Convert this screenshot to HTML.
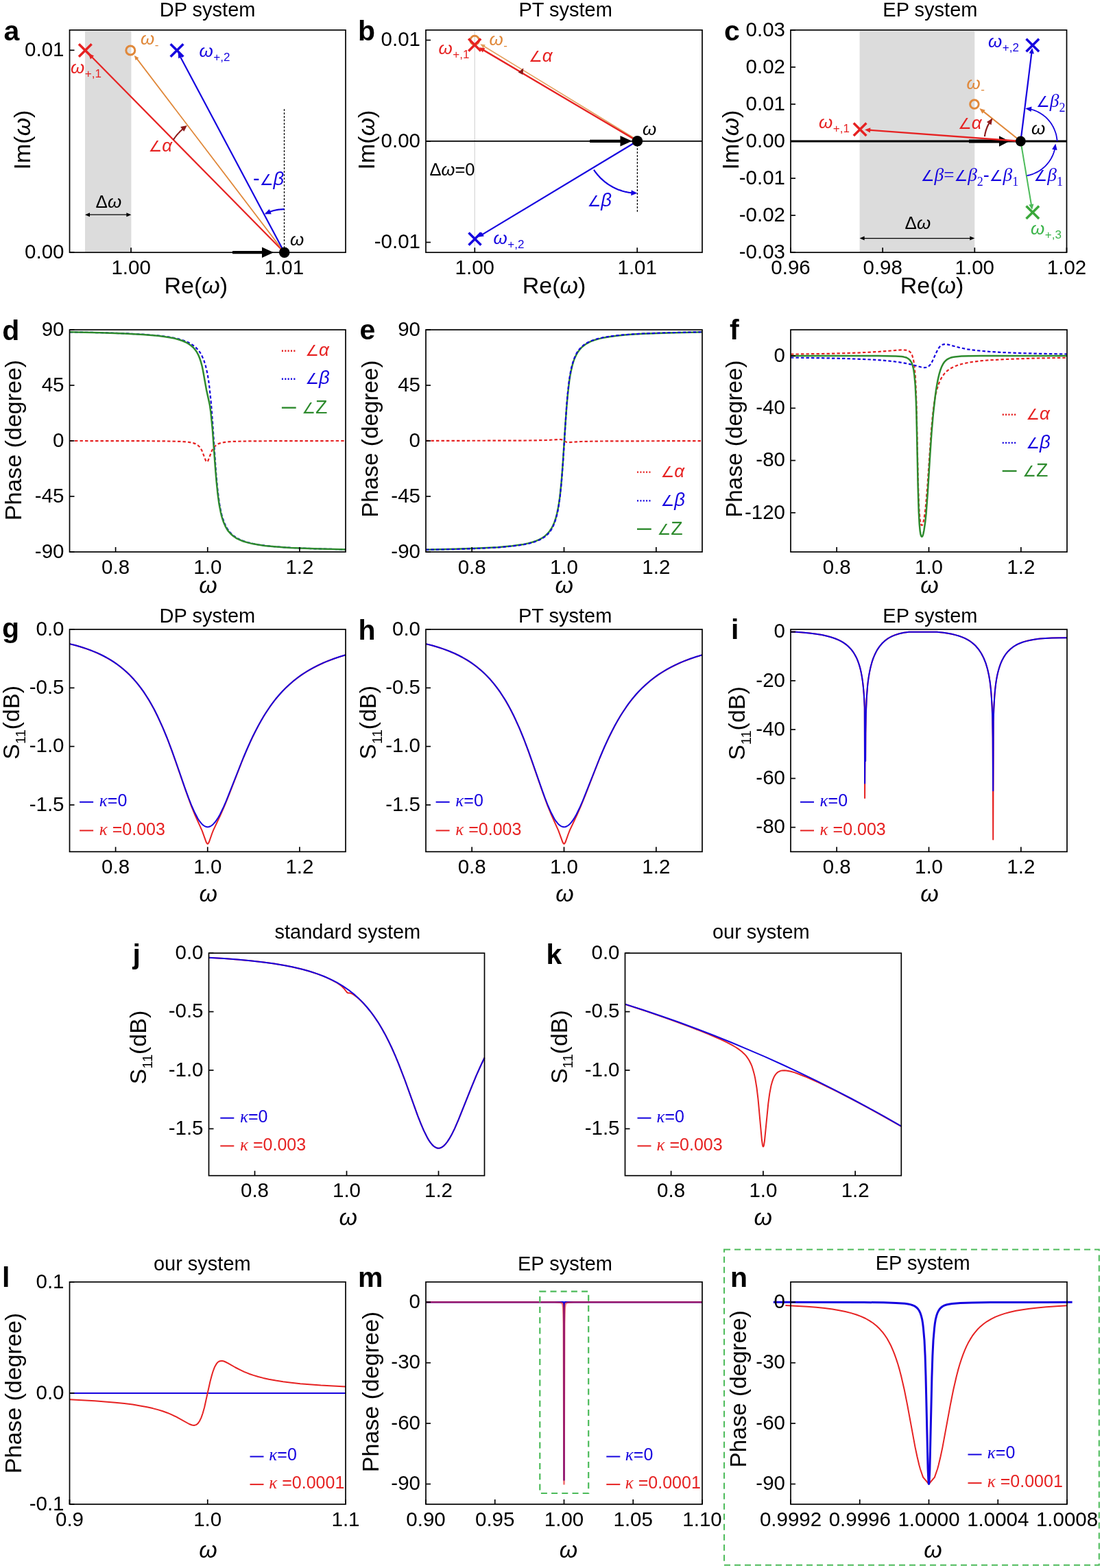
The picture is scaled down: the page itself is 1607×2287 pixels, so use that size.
<!DOCTYPE html>
<html><head><meta charset="utf-8"><style>
html,body{margin:0;padding:0;background:#fff;width:1607px;height:2287px;overflow:hidden}
svg{display:block}
</style></head><body>
<svg width="1607" height="2287" viewBox="0 0 1607 2287" font-family="'Liberation Sans','DejaVu Sans',sans-serif">
<rect width="1607" height="2287" fill="#fff"/>
<polyline points="101.5,643.0 196.4,643.1 240.0,643.4 263.5,643.9 270.9,644.4 276.6,645.1 281.6,646.1 285.3,647.4 288.3,649.2 291.0,651.7 293.0,654.6 294.7,657.8 300.1,672.0 301.1,673.4 301.7,673.7 302.4,673.4 303.4,672.0 308.8,657.8 310.5,654.6 312.5,651.7 315.2,649.2 318.2,647.4 321.9,646.1 326.9,645.1 332.6,644.4 340.3,643.9 363.8,643.4 408.1,643.1 504.0,643.0" fill="none" stroke="#e62222" stroke-width="2.2" stroke-linejoin="round" stroke-dasharray="4.4,3.1"/>
<polyline points="101.5,484.3 147.5,485.2 183.3,486.4 211.5,487.9 233.3,489.8 242.7,491.0 250.8,492.3 257.8,493.7 264.2,495.4 269.5,497.2 274.6,499.4 278.9,501.8 283.0,504.6 286.6,507.9 289.7,511.3 292.4,515.2 295.0,520.2 297.4,525.9 299.4,532.1 301.1,538.6 302.8,546.8 304.1,554.8 305.4,564.6 307.8,587.3 309.8,612.9 314.8,686.6 316.8,709.4 318.9,726.5 320.2,735.4 321.5,742.7 323.2,750.2 324.9,756.1 326.9,761.9 328.9,766.5 331.3,770.8 333.6,774.2 337.0,778.1 340.7,781.4 345.0,784.4 349.7,786.9 355.4,789.3 361.8,791.2 368.8,792.9 377.2,794.5 386.6,795.8 397.7,797.0 410.1,798.0 424.2,798.9 458.7,800.3 504.0,801.4" fill="none" stroke="#1503df" stroke-width="2.2" stroke-linejoin="round" stroke-dasharray="4.4,3.1"/>
<polyline points="101.5,484.3 146.1,485.2 181.3,486.4 208.8,487.9 230.3,489.7 239.4,490.9 247.4,492.2 254.5,493.6 260.5,495.2 265.9,497.0 270.5,499.0 274.9,501.4 278.6,504.0 282.0,507.0 284.6,510.1 287.0,513.5 289.3,517.9 291.3,522.8 293.0,527.9 294.7,534.3 296.0,540.5 301.1,569.0 305.8,590.2 307.4,601.6 309.8,625.7 313.8,680.4 315.5,700.8 317.5,720.4 319.5,735.0 321.9,747.5 323.2,752.9 324.9,758.5 326.6,763.1 328.6,767.6 330.6,771.2 332.9,774.7 336.3,778.5 340.0,781.8 344.3,784.8 349.0,787.2 354.7,789.5 361.1,791.4 368.2,793.1 376.5,794.6 385.9,795.9 397.0,797.0 409.4,798.0 423.5,798.9 458.4,800.3 504.0,801.4" fill="none" stroke="#2e8b2e" stroke-width="2.5" stroke-linejoin="round"/>
<rect x="101.50" y="481.00" width="402.50" height="324.00" fill="none" stroke="#000" stroke-width="1.7"/>
<line x1="101.50" y1="481.00" x2="108.50" y2="481.00" stroke="#000" stroke-width="1.7"/>
<text x="93.5" y="489.7" font-size="29.5" text-anchor="end">90</text>
<line x1="101.50" y1="562.00" x2="108.50" y2="562.00" stroke="#000" stroke-width="1.7"/>
<text x="93.5" y="570.7" font-size="29.5" text-anchor="end">45</text>
<line x1="101.50" y1="643.00" x2="108.50" y2="643.00" stroke="#000" stroke-width="1.7"/>
<text x="93.5" y="651.7" font-size="29.5" text-anchor="end">0</text>
<line x1="101.50" y1="724.00" x2="108.50" y2="724.00" stroke="#000" stroke-width="1.7"/>
<text x="93.5" y="732.7" font-size="29.5" text-anchor="end">-45</text>
<line x1="101.50" y1="805.00" x2="108.50" y2="805.00" stroke="#000" stroke-width="1.7"/>
<text x="93.5" y="813.7" font-size="29.5" text-anchor="end">-90</text>
<line x1="168.58" y1="805.00" x2="168.58" y2="798.00" stroke="#000" stroke-width="1.7"/>
<text x="168.6" y="836.6" font-size="29.5" text-anchor="middle">0.8</text>
<line x1="302.75" y1="805.00" x2="302.75" y2="798.00" stroke="#000" stroke-width="1.7"/>
<text x="302.8" y="836.6" font-size="29.5" text-anchor="middle">1.0</text>
<line x1="436.92" y1="805.00" x2="436.92" y2="798.00" stroke="#000" stroke-width="1.7"/>
<text x="436.9" y="836.6" font-size="29.5" text-anchor="middle">1.2</text>
<line x1="410.9" y1="511.8" x2="430.4" y2="511.8" stroke="#e62222" stroke-width="2.4" stroke-dasharray="2.1,2.25"/>
<text x="445.2" y="519.0" font-size="29" fill="#e62222"><tspan font-style="italic" font-size="22">∠</tspan><tspan font-style="italic" font-size="26">α</tspan></text>
<line x1="410.9" y1="552.7" x2="430.4" y2="552.7" stroke="#1503df" stroke-width="2.4" stroke-dasharray="2.1,2.25"/>
<text x="445.2" y="560.3" font-size="29" fill="#1503df"><tspan font-style="italic" font-size="22">∠</tspan><tspan font-style="italic" font-size="27.5">β</tspan></text>
<line x1="410.9" y1="594.7" x2="431.7" y2="594.7" stroke="#2e8b2e" stroke-width="2.4"/>
<text x="440.2" y="602.7" font-size="29" fill="#2e8b2e"><tspan font-style="italic" font-size="22">∠</tspan><tspan font-size="28.5">Z</tspan></text>
<text x="3.3" y="495.8" font-size="41" font-weight="bold">d</text>
<text x="31.2" y="642.0" font-size="34" text-anchor="middle" transform="rotate(-90 31.2 642.0)">Phase (degree)</text>
<text x="303.6" y="864.7" font-size="34" text-anchor="middle"><tspan font-style="italic">ω</tspan></text>
<polyline points="621.0,642.9 720.7,642.7 771.5,642.5 797.3,642.0 815.8,640.9 817.8,641.0 819.5,641.4 825.2,644.5 826.9,644.9 828.9,645.1 848.0,644.0 873.5,643.5 924.3,643.3 1024.0,643.1" fill="none" stroke="#e62222" stroke-width="2.2" stroke-linejoin="round" stroke-dasharray="4.4,3.1"/>
<polyline points="621.0,801.7 664.7,800.8 698.9,799.6 725.8,798.2 746.9,796.3 755.7,795.1 763.4,793.9 770.4,792.4 776.5,790.8 781.9,788.9 786.6,786.9 790.9,784.5 794.6,781.9 798.3,778.5 801.3,775.0 804.0,771.0 806.4,766.6 808.4,761.9 810.4,755.9 812.1,749.6 813.8,741.6 815.1,733.8 816.5,724.1 818.8,701.6 820.8,675.5 824.5,617.9 826.2,594.3 827.9,575.2 829.9,557.8 831.2,548.9 832.6,541.6 834.3,534.2 835.9,528.3 837.9,522.7 840.0,518.2 842.3,514.0 844.7,510.7 848.0,506.9 851.7,503.7 856.1,500.8 861.1,498.2 866.8,496.0 873.5,494.1 880.9,492.4 889.7,490.9 899.4,489.7 910.8,488.5 923.9,487.6 938.7,486.7 975.6,485.4 1024.0,484.3" fill="none" stroke="#2e8b2e" stroke-width="2.5" stroke-linejoin="round"/>
<polyline points="621.0,801.8 665.3,801.0 699.9,799.8 726.8,798.4 747.9,796.5 756.7,795.4 764.4,794.1 771.1,792.8 777.2,791.2 782.5,789.3 787.2,787.3 791.6,784.9 795.3,782.3 798.7,779.3 801.7,775.8 804.4,771.8 806.7,767.4 808.7,762.6 810.7,756.5 812.4,750.0 814.1,741.9 815.4,733.6 816.8,723.4 819.1,699.4 821.2,671.4 825.9,597.0 827.5,576.6 829.6,558.2 830.9,548.9 832.2,541.3 833.6,535.1 835.3,528.8 837.3,522.9 839.3,518.2 841.6,513.8 844.0,510.4 847.4,506.5 851.0,503.3 855.4,500.4 860.4,497.8 866.2,495.6 872.5,493.8 879.9,492.1 888.7,490.7 898.4,489.4 909.8,488.3 922.9,487.4 938.0,486.5 975.0,485.2 1024.0,484.2" fill="none" stroke="#1503df" stroke-width="2.2" stroke-linejoin="round" stroke-dasharray="4.4,3.1"/>
<rect x="621.00" y="481.00" width="403.00" height="324.00" fill="none" stroke="#000" stroke-width="1.7"/>
<line x1="621.00" y1="481.00" x2="628.00" y2="481.00" stroke="#000" stroke-width="1.7"/>
<text x="613.0" y="489.7" font-size="29.5" text-anchor="end">90</text>
<line x1="621.00" y1="562.00" x2="628.00" y2="562.00" stroke="#000" stroke-width="1.7"/>
<text x="613.0" y="570.7" font-size="29.5" text-anchor="end">45</text>
<line x1="621.00" y1="643.00" x2="628.00" y2="643.00" stroke="#000" stroke-width="1.7"/>
<text x="613.0" y="651.7" font-size="29.5" text-anchor="end">0</text>
<line x1="621.00" y1="724.00" x2="628.00" y2="724.00" stroke="#000" stroke-width="1.7"/>
<text x="613.0" y="732.7" font-size="29.5" text-anchor="end">-45</text>
<line x1="621.00" y1="805.00" x2="628.00" y2="805.00" stroke="#000" stroke-width="1.7"/>
<text x="613.0" y="813.7" font-size="29.5" text-anchor="end">-90</text>
<line x1="688.17" y1="805.00" x2="688.17" y2="798.00" stroke="#000" stroke-width="1.7"/>
<text x="688.2" y="836.6" font-size="29.5" text-anchor="middle">0.8</text>
<line x1="822.50" y1="805.00" x2="822.50" y2="798.00" stroke="#000" stroke-width="1.7"/>
<text x="822.5" y="836.6" font-size="29.5" text-anchor="middle">1.0</text>
<line x1="956.83" y1="805.00" x2="956.83" y2="798.00" stroke="#000" stroke-width="1.7"/>
<text x="956.8" y="836.6" font-size="29.5" text-anchor="middle">1.2</text>
<line x1="929.0" y1="688.6" x2="948.5" y2="688.6" stroke="#e62222" stroke-width="2.4" stroke-dasharray="2.1,2.25"/>
<text x="963.5" y="695.8" font-size="29" fill="#e62222"><tspan font-style="italic" font-size="22">∠</tspan><tspan font-style="italic" font-size="26">α</tspan></text>
<line x1="929.0" y1="730.4" x2="948.5" y2="730.4" stroke="#1503df" stroke-width="2.4" stroke-dasharray="2.1,2.25"/>
<text x="963.5" y="738.0" font-size="29" fill="#1503df"><tspan font-style="italic" font-size="22">∠</tspan><tspan font-style="italic" font-size="27.5">β</tspan></text>
<line x1="929.0" y1="771.7" x2="949.8" y2="771.7" stroke="#2e8b2e" stroke-width="2.4"/>
<text x="958.5" y="779.7" font-size="29" fill="#2e8b2e"><tspan font-style="italic" font-size="22">∠</tspan><tspan font-size="28.5">Z</tspan></text>
<text x="524.5" y="495.4" font-size="41" font-weight="bold">e</text>
<text x="551.1" y="640.1" font-size="33.3" text-anchor="middle" transform="rotate(-90 551.1 640.1)">Phase (degree)</text>
<text x="822.8" y="864.7" font-size="34" text-anchor="middle"><tspan font-style="italic">ω</tspan></text>
<polyline points="1153.0,516.7 1209.1,515.8 1250.7,514.6 1279.6,513.1 1310.2,510.7 1316.2,510.4 1320.6,510.6 1323.6,511.2 1326.0,512.4 1328.0,514.3 1329.3,516.4 1330.3,518.6 1332.0,524.5 1333.3,532.8 1334.7,547.6 1335.7,567.4 1336.4,587.7 1338.7,697.3 1339.7,729.8 1340.4,743.4 1341.4,755.9 1342.1,760.8 1342.7,763.9 1343.4,765.6 1344.1,766.2 1344.8,765.9 1345.4,764.7 1346.1,762.8 1347.1,758.6 1348.8,747.9 1350.1,736.0 1352.5,707.7 1357.9,629.1 1359.9,607.1 1362.2,588.3 1363.6,580.2 1364.9,573.6 1366.6,566.9 1368.3,561.5 1370.3,556.3 1372.3,552.2 1374.7,548.3 1377.3,544.8 1380.7,541.4 1384.4,538.5 1388.8,536.0 1393.8,533.7 1399.5,531.7 1405.9,530.1 1413.3,528.6 1422.0,527.3 1431.7,526.2 1442.8,525.3 1470.7,523.8 1507.3,522.6 1556.0,521.7" fill="none" stroke="#e62222" stroke-width="2.2" stroke-linejoin="round" stroke-dasharray="4.4,3.1"/>
<polyline points="1153.0,521.5 1198.3,522.2 1233.9,523.0 1262.5,524.1 1285.0,525.4 1301.8,527.0 1315.9,529.0 1327.6,531.3 1343.4,535.5 1346.1,536.0 1348.5,536.2 1350.5,536.0 1352.5,535.3 1354.5,534.0 1356.2,532.3 1357.9,530.0 1359.5,527.1 1365.9,513.1 1368.9,507.7 1370.6,505.5 1372.6,503.7 1374.7,502.6 1377.0,502.1 1379.7,502.1 1382.7,502.6 1398.8,506.9 1410.6,509.3 1423.3,511.1 1438.5,512.6 1458.9,513.9 1484.5,514.9 1516.4,515.8 1556.0,516.5" fill="none" stroke="#1503df" stroke-width="2.2" stroke-linejoin="round" stroke-dasharray="4.4,3.1"/>
<polyline points="1153.0,519.1 1279.9,519.1 1306.1,519.4 1314.9,520.1 1317.9,520.6 1320.6,521.2 1322.6,522.0 1324.6,523.2 1326.3,524.6 1327.6,526.1 1329.0,528.3 1330.0,530.6 1331.0,533.6 1332.0,537.8 1333.3,546.4 1334.7,561.7 1335.7,581.8 1336.4,602.2 1338.7,712.5 1339.7,745.3 1340.7,764.1 1341.7,774.6 1342.4,778.8 1343.1,781.3 1343.8,782.5 1344.4,782.8 1345.1,782.1 1345.8,780.7 1346.4,778.5 1347.4,773.8 1349.1,762.3 1350.5,749.4 1352.8,718.9 1356.5,660.0 1358.5,630.9 1360.9,603.5 1363.6,579.5 1364.9,569.8 1366.6,559.5 1367.9,552.7 1369.6,545.5 1371.3,539.8 1373.3,534.6 1375.3,530.7 1377.3,527.8 1379.4,525.7 1381.4,524.1 1383.7,522.8 1386.1,521.8 1389.1,521.0 1392.4,520.4 1401.9,519.6 1412.6,519.2 1430.4,519.1 1556.0,519.1" fill="none" stroke="#2e8b2e" stroke-width="2.5" stroke-linejoin="round"/>
<rect x="1153.00" y="481.00" width="403.00" height="324.00" fill="none" stroke="#000" stroke-width="1.7"/>
<line x1="1153.00" y1="519.12" x2="1160.00" y2="519.12" stroke="#000" stroke-width="1.7"/>
<text x="1145.0" y="527.8" font-size="29.5" text-anchor="end">0</text>
<line x1="1153.00" y1="595.35" x2="1160.00" y2="595.35" stroke="#000" stroke-width="1.7"/>
<text x="1145.0" y="604.1" font-size="29.5" text-anchor="end">-40</text>
<line x1="1153.00" y1="671.59" x2="1160.00" y2="671.59" stroke="#000" stroke-width="1.7"/>
<text x="1145.0" y="680.3" font-size="29.5" text-anchor="end">-80</text>
<line x1="1153.00" y1="747.82" x2="1160.00" y2="747.82" stroke="#000" stroke-width="1.7"/>
<text x="1145.0" y="756.5" font-size="29.5" text-anchor="end">-120</text>
<line x1="1220.17" y1="805.00" x2="1220.17" y2="798.00" stroke="#000" stroke-width="1.7"/>
<text x="1220.2" y="836.6" font-size="29.5" text-anchor="middle">0.8</text>
<line x1="1354.50" y1="805.00" x2="1354.50" y2="798.00" stroke="#000" stroke-width="1.7"/>
<text x="1354.5" y="836.6" font-size="29.5" text-anchor="middle">1.0</text>
<line x1="1488.83" y1="805.00" x2="1488.83" y2="798.00" stroke="#000" stroke-width="1.7"/>
<text x="1488.8" y="836.6" font-size="29.5" text-anchor="middle">1.2</text>
<line x1="1461.7" y1="604.8" x2="1481.2" y2="604.8" stroke="#e62222" stroke-width="2.4" stroke-dasharray="2.1,2.25"/>
<text x="1496.2" y="612.0" font-size="29" fill="#e62222"><tspan font-style="italic" font-size="22">∠</tspan><tspan font-style="italic" font-size="26">α</tspan></text>
<line x1="1461.7" y1="645.9" x2="1481.2" y2="645.9" stroke="#1503df" stroke-width="2.4" stroke-dasharray="2.1,2.25"/>
<text x="1496.2" y="653.5" font-size="29" fill="#1503df"><tspan font-style="italic" font-size="22">∠</tspan><tspan font-style="italic" font-size="27.5">β</tspan></text>
<line x1="1461.7" y1="687.0" x2="1482.5" y2="687.0" stroke="#2e8b2e" stroke-width="2.4"/>
<text x="1491.2" y="695.0" font-size="29" fill="#2e8b2e"><tspan font-style="italic" font-size="22">∠</tspan><tspan font-size="28.5">Z</tspan></text>
<text x="1064.0" y="494.5" font-size="41" font-weight="bold">f</text>
<text x="1082.3" y="640.1" font-size="33.3" text-anchor="middle" transform="rotate(-90 1082.3 640.1)">Phase (degree)</text>
<text x="1355.5" y="864.7" font-size="34" text-anchor="middle"><tspan font-style="italic">ω</tspan></text>
<polyline points="101.5,939.1 110.9,941.5 119.9,944.2 128.3,947.1 136.4,950.1 144.1,953.5 151.1,956.9 158.2,960.8 164.9,964.9 171.3,969.3 177.3,973.9 183.0,978.8 188.7,984.1 194.1,989.7 199.4,995.9 204.5,1002.3 209.5,1009.2 216.9,1020.7 224.3,1033.8 231.6,1048.6 238.7,1064.4 245.1,1080.2 251.4,1097.3 271.6,1155.4 278.6,1174.7 284.6,1189.4 294.7,1211.6 300.7,1228.3 301.7,1230.1 302.4,1230.7 302.8,1230.8 303.1,1230.7 303.8,1230.1 304.8,1228.3 309.1,1216.0 311.1,1210.9 321.5,1188.9 327.2,1175.9 333.6,1160.1 352.7,1110.8 359.1,1095.4 365.1,1081.8 372.5,1066.5 380.2,1052.1 387.9,1039.3 396.0,1027.5 401.0,1020.9 406.4,1014.4 411.8,1008.4 417.1,1003.0 422.8,997.7 428.9,992.5 435.2,987.6 441.6,983.1 448.3,978.9 455.4,974.8 462.7,971.0 470.1,967.5 477.8,964.2 486.2,961.0 494.9,958.1 504.0,955.3" fill="none" stroke="#e62222" stroke-width="2.0" stroke-linejoin="round"/>
<polyline points="101.5,939.1 110.2,941.3 118.6,943.8 126.7,946.4 134.4,949.3 141.4,952.2 148.5,955.5 155.2,959.0 161.5,962.7 167.6,966.6 173.6,971.0 179.3,975.5 184.7,980.2 190.0,985.4 195.1,990.8 200.1,996.6 204.8,1002.6 209.2,1008.6 213.2,1014.7 217.2,1021.1 221.2,1028.1 225.3,1035.5 229.3,1043.5 237.0,1060.3 243.7,1076.5 250.4,1094.2 256.8,1112.0 269.5,1148.8 274.9,1163.6 279.6,1175.5 284.0,1185.3 288.7,1194.2 291.0,1197.7 293.4,1200.7 295.7,1203.1 298.1,1204.8 300.4,1205.8 302.4,1206.2 304.4,1206.0 306.8,1205.2 308.8,1204.0 311.1,1201.9 313.5,1199.3 315.8,1196.1 318.2,1192.5 320.9,1187.7 325.2,1178.8 329.9,1168.1 354.7,1105.5 361.8,1089.0 368.8,1073.7 376.9,1058.0 384.9,1044.0 393.3,1031.2 397.7,1025.2 402.0,1019.5 407.1,1013.5 412.1,1008.0 417.1,1002.9 422.5,997.9 427.9,993.3 433.6,988.8 439.6,984.4 445.6,980.5 452.0,976.6 458.4,973.1 465.4,969.6 472.5,966.4 479.9,963.4 487.6,960.5 495.6,957.8 504.0,955.3" fill="none" stroke="#1503df" stroke-width="2.0" stroke-linejoin="round"/>
<rect x="101.50" y="918.00" width="402.50" height="324.30" fill="none" stroke="#000" stroke-width="1.7"/>
<line x1="101.50" y1="918.00" x2="108.50" y2="918.00" stroke="#000" stroke-width="1.7"/>
<text x="93.5" y="926.7" font-size="29.5" text-anchor="end">0.0</text>
<line x1="101.50" y1="1003.34" x2="108.50" y2="1003.34" stroke="#000" stroke-width="1.7"/>
<text x="93.5" y="1012.0" font-size="29.5" text-anchor="end">-0.5</text>
<line x1="101.50" y1="1088.68" x2="108.50" y2="1088.68" stroke="#000" stroke-width="1.7"/>
<text x="93.5" y="1097.4" font-size="29.5" text-anchor="end">-1.0</text>
<line x1="101.50" y1="1174.03" x2="108.50" y2="1174.03" stroke="#000" stroke-width="1.7"/>
<text x="93.5" y="1182.7" font-size="29.5" text-anchor="end">-1.5</text>
<line x1="168.58" y1="1242.30" x2="168.58" y2="1235.30" stroke="#000" stroke-width="1.7"/>
<text x="168.6" y="1273.9" font-size="29.5" text-anchor="middle">0.8</text>
<line x1="302.75" y1="1242.30" x2="302.75" y2="1235.30" stroke="#000" stroke-width="1.7"/>
<text x="302.8" y="1273.9" font-size="29.5" text-anchor="middle">1.0</text>
<line x1="436.92" y1="1242.30" x2="436.92" y2="1235.30" stroke="#000" stroke-width="1.7"/>
<text x="436.9" y="1273.9" font-size="29.5" text-anchor="middle">1.2</text>
<text x="302.4" y="907.6" font-size="29" text-anchor="middle">DP system</text>
<text x="3.0" y="930.0" font-size="41" font-weight="bold">g</text>
<line x1="116.1" y1="1169.8" x2="136.1" y2="1169.8" stroke="#1503df" stroke-width="2.0"/>
<text x="144.8" y="1175.7" font-size="25" fill="#1503df"><tspan font-family="'Liberation Serif','DejaVu Serif',serif" font-style="italic">κ</tspan>=0</text>
<line x1="116.1" y1="1211.4" x2="136.1" y2="1211.4" stroke="#e62222" stroke-width="2.0"/>
<text x="144.8" y="1217.5" font-size="25" fill="#e62222"><tspan font-family="'Liberation Serif','DejaVu Serif',serif" font-style="italic">κ</tspan> =0.003</text>
<text x="28.4" y="1053.8" font-size="34" text-anchor="middle" transform="rotate(-90 28.4 1053.8)">S<tspan font-size="20" dy="8.5">11</tspan><tspan dy="-8.5">(dB)</tspan></text>
<text x="303.8" y="1314.6" font-size="34" text-anchor="middle"><tspan font-style="italic">ω</tspan></text>
<polyline points="621.0,939.1 630.4,941.5 639.5,944.2 647.9,947.1 655.9,950.1 663.7,953.5 670.7,956.9 677.8,960.8 684.5,964.9 690.9,969.3 696.9,973.9 702.6,978.8 708.3,984.1 713.7,989.7 719.1,995.9 724.1,1002.3 729.1,1009.2 736.5,1020.7 743.9,1033.8 751.3,1048.6 758.4,1064.4 764.7,1080.2 771.1,1097.3 791.3,1155.4 798.3,1174.7 804.4,1189.4 814.4,1211.6 820.5,1228.3 821.5,1230.1 822.2,1230.7 822.5,1230.8 822.8,1230.7 823.5,1230.1 824.5,1228.3 828.9,1216.0 830.9,1210.9 841.3,1188.9 847.0,1175.9 853.4,1160.1 872.5,1110.8 878.9,1095.4 885.0,1081.8 892.4,1066.5 900.1,1052.1 907.8,1039.3 915.9,1027.5 920.9,1020.9 926.3,1014.4 931.6,1008.4 937.0,1003.0 942.7,997.7 948.8,992.5 955.2,987.6 961.5,983.1 968.3,978.9 975.3,974.8 982.7,971.0 990.1,967.5 997.8,964.2 1006.2,961.0 1014.9,958.1 1024.0,955.3" fill="none" stroke="#e62222" stroke-width="2.0" stroke-linejoin="round"/>
<polyline points="621.0,939.1 629.7,941.3 638.1,943.8 646.2,946.4 653.9,949.3 661.0,952.2 668.0,955.5 674.7,959.0 681.1,962.7 687.2,966.6 693.2,971.0 698.9,975.5 704.3,980.2 709.7,985.4 714.7,990.8 719.7,996.6 724.4,1002.6 728.8,1008.6 732.8,1014.7 736.9,1021.1 740.9,1028.1 744.9,1035.5 749.0,1043.5 756.7,1060.3 763.4,1076.5 770.1,1094.2 776.5,1112.0 789.3,1148.8 794.6,1163.6 799.3,1175.5 803.7,1185.3 808.4,1194.2 810.7,1197.7 813.1,1200.7 815.4,1203.1 817.8,1204.8 820.1,1205.8 822.2,1206.2 824.2,1206.0 826.5,1205.2 828.5,1204.0 830.9,1201.9 833.2,1199.3 835.6,1196.1 837.9,1192.5 840.6,1187.7 845.0,1178.8 849.7,1168.1 874.6,1105.5 881.6,1089.0 888.7,1073.7 896.7,1058.0 904.8,1044.0 913.2,1031.2 917.5,1025.2 921.9,1019.5 926.9,1013.5 932.0,1008.0 937.0,1002.9 942.4,997.9 947.8,993.3 953.5,988.8 959.5,984.4 965.6,980.5 971.9,976.6 978.3,973.1 985.4,969.6 992.4,966.4 999.8,963.4 1007.5,960.5 1015.6,957.8 1024.0,955.3" fill="none" stroke="#1503df" stroke-width="2.0" stroke-linejoin="round"/>
<rect x="621.00" y="918.00" width="403.00" height="324.30" fill="none" stroke="#000" stroke-width="1.7"/>
<line x1="621.00" y1="918.00" x2="628.00" y2="918.00" stroke="#000" stroke-width="1.7"/>
<text x="613.0" y="926.7" font-size="29.5" text-anchor="end">0.0</text>
<line x1="621.00" y1="1003.34" x2="628.00" y2="1003.34" stroke="#000" stroke-width="1.7"/>
<text x="613.0" y="1012.0" font-size="29.5" text-anchor="end">-0.5</text>
<line x1="621.00" y1="1088.68" x2="628.00" y2="1088.68" stroke="#000" stroke-width="1.7"/>
<text x="613.0" y="1097.4" font-size="29.5" text-anchor="end">-1.0</text>
<line x1="621.00" y1="1174.03" x2="628.00" y2="1174.03" stroke="#000" stroke-width="1.7"/>
<text x="613.0" y="1182.7" font-size="29.5" text-anchor="end">-1.5</text>
<line x1="688.17" y1="1242.30" x2="688.17" y2="1235.30" stroke="#000" stroke-width="1.7"/>
<text x="688.2" y="1273.9" font-size="29.5" text-anchor="middle">0.8</text>
<line x1="822.50" y1="1242.30" x2="822.50" y2="1235.30" stroke="#000" stroke-width="1.7"/>
<text x="822.5" y="1273.9" font-size="29.5" text-anchor="middle">1.0</text>
<line x1="956.83" y1="1242.30" x2="956.83" y2="1235.30" stroke="#000" stroke-width="1.7"/>
<text x="956.8" y="1273.9" font-size="29.5" text-anchor="middle">1.2</text>
<text x="824.1" y="907.6" font-size="29" text-anchor="middle">PT system</text>
<text x="522.5" y="932.5" font-size="41" font-weight="bold">h</text>
<line x1="635.6" y1="1169.8" x2="655.6" y2="1169.8" stroke="#1503df" stroke-width="2.0"/>
<text x="664.3" y="1175.7" font-size="25" fill="#1503df"><tspan font-family="'Liberation Serif','DejaVu Serif',serif" font-style="italic">κ</tspan>=0</text>
<line x1="635.6" y1="1211.4" x2="655.6" y2="1211.4" stroke="#e62222" stroke-width="2.0"/>
<text x="664.3" y="1217.5" font-size="25" fill="#e62222"><tspan font-family="'Liberation Serif','DejaVu Serif',serif" font-style="italic">κ</tspan> =0.003</text>
<text x="548.5" y="1053.8" font-size="34" text-anchor="middle" transform="rotate(-90 548.5 1053.8)">S<tspan font-size="20" dy="8.5">11</tspan><tspan dy="-8.5">(dB)</tspan></text>
<text x="823.5" y="1314.6" font-size="34" text-anchor="middle"><tspan font-style="italic">ω</tspan></text>
<polyline points="1153.0,921.7 1160.6,921.7 1169.6,922.4 1181.5,923.6 1191.8,924.9 1199.8,926.3 1207.2,928.0 1213.7,929.9 1219.5,932.0 1224.8,934.3 1229.6,937.1 1233.9,940.1 1237.6,943.3 1241.2,947.1 1244.2,951.1 1246.9,955.5 1249.5,960.5 1251.7,966.2 1253.5,971.6 1255.0,977.4 1256.5,984.7 1257.8,992.6 1258.8,1000.9 1259.5,1009.2 1260.3,1020.6 1260.8,1031.6 1261.1,1163.9 1261.6,1063.8 1262.1,1110.0 1262.3,1069.2 1262.8,1041.2 1263.6,1021.4 1264.8,1003.4 1265.8,993.9 1267.4,983.6 1268.9,975.9 1270.9,967.9 1273.1,960.9 1275.9,954.2 1278.9,948.4 1282.2,943.4 1286.0,938.8 1290.0,934.9 1294.6,931.4 1299.6,928.5 1305.1,926.2 1311.2,924.3 1318.0,922.8 1325.5,921.7 1366.3,921.8 1377.4,923.0 1387.5,924.7 1393.3,926.1 1398.6,927.6 1403.4,929.4 1407.9,931.4 1412.2,933.7 1416.0,936.2 1419.5,939.0 1422.8,942.1 1427.3,947.4 1431.3,953.5 1434.6,960.0 1437.6,967.7 1440.1,976.3 1442.2,985.5 1443.9,996.6 1445.2,1008.1 1445.9,1017.7 1446.7,1031.7 1447.4,1057.9 1447.7,1076.0 1448.2,1224.5 1448.7,1052.2 1449.2,1035.3 1450.5,1013.1 1451.2,1004.9 1452.2,996.6 1453.5,988.8 1455.0,981.5 1456.8,974.9 1458.5,969.6 1460.8,964.1 1463.6,958.8 1466.6,954.2 1470.1,949.9 1473.9,946.3 1478.2,943.0 1483.0,940.2 1488.0,937.9 1493.5,935.9 1499.8,934.2 1506.6,932.9 1514.4,931.8 1523.0,931.1 1532.8,930.5 1543.7,930.2 1556.0,930.2" fill="none" stroke="#e62222" stroke-width="2.0" stroke-linejoin="round"/>
<polyline points="1153.0,921.7 1160.6,921.7 1168.6,922.3 1180.2,923.4 1190.5,924.7 1198.6,926.1 1205.9,927.7 1212.4,929.5 1218.2,931.5 1223.3,933.6 1228.1,936.1 1232.3,938.9 1236.4,942.2 1239.9,945.7 1243.2,949.6 1245.9,953.8 1248.5,958.4 1250.5,962.9 1252.5,968.4 1254.3,974.4 1255.8,980.8 1257.0,987.6 1258.0,994.4 1259.0,1003.4 1259.8,1012.5 1260.8,1031.6 1261.1,1142.5 1261.6,1063.8 1262.1,1110.0 1262.3,1069.2 1262.8,1041.2 1263.8,1016.9 1265.3,998.3 1266.6,988.4 1267.9,980.8 1269.6,972.7 1271.6,965.4 1273.9,958.9 1276.7,952.6 1279.7,947.1 1283.0,942.4 1286.7,938.0 1290.8,934.2 1295.3,931.0 1300.1,928.3 1305.4,926.1 1311.4,924.2 1318.0,922.8 1325.5,921.7 1366.1,921.7 1374.4,922.6 1382.5,923.8 1388.0,924.8 1393.3,926.1 1398.1,927.5 1402.6,929.1 1406.9,930.9 1410.7,932.8 1414.2,935.0 1417.7,937.5 1422.8,942.1 1427.0,947.0 1430.8,952.7 1434.3,959.4 1437.4,967.0 1439.9,975.3 1441.9,984.2 1443.7,994.8 1444.9,1005.4 1445.9,1017.7 1446.7,1031.7 1447.2,1046.6 1447.7,1076.0 1448.2,1153.2 1448.7,1052.2 1449.2,1035.3 1450.2,1016.5 1451.0,1007.4 1452.0,998.5 1453.0,991.7 1454.2,984.9 1455.8,978.5 1457.3,973.3 1459.3,967.6 1461.3,963.0 1463.8,958.4 1466.8,953.8 1469.9,950.2 1473.4,946.7 1477.2,943.7 1481.4,941.0 1486.0,938.7 1491.0,936.7 1496.6,935.1 1502.6,933.7 1509.4,932.5 1516.7,931.6 1525.0,930.9 1534.3,930.5 1556.0,930.2" fill="none" stroke="#1503df" stroke-width="2.0" stroke-linejoin="round"/>
<rect x="1153.00" y="918.00" width="403.00" height="324.30" fill="none" stroke="#000" stroke-width="1.7"/>
<line x1="1153.00" y1="921.56" x2="1160.00" y2="921.56" stroke="#000" stroke-width="1.7"/>
<text x="1145.0" y="930.3" font-size="29.5" text-anchor="end">0</text>
<line x1="1153.00" y1="992.84" x2="1160.00" y2="992.84" stroke="#000" stroke-width="1.7"/>
<text x="1145.0" y="1001.5" font-size="29.5" text-anchor="end">-20</text>
<line x1="1153.00" y1="1064.11" x2="1160.00" y2="1064.11" stroke="#000" stroke-width="1.7"/>
<text x="1145.0" y="1072.8" font-size="29.5" text-anchor="end">-40</text>
<line x1="1153.00" y1="1135.39" x2="1160.00" y2="1135.39" stroke="#000" stroke-width="1.7"/>
<text x="1145.0" y="1144.1" font-size="29.5" text-anchor="end">-60</text>
<line x1="1153.00" y1="1206.66" x2="1160.00" y2="1206.66" stroke="#000" stroke-width="1.7"/>
<text x="1145.0" y="1215.4" font-size="29.5" text-anchor="end">-80</text>
<line x1="1220.17" y1="1242.30" x2="1220.17" y2="1235.30" stroke="#000" stroke-width="1.7"/>
<text x="1220.2" y="1273.9" font-size="29.5" text-anchor="middle">0.8</text>
<line x1="1354.50" y1="1242.30" x2="1354.50" y2="1235.30" stroke="#000" stroke-width="1.7"/>
<text x="1354.5" y="1273.9" font-size="29.5" text-anchor="middle">1.0</text>
<line x1="1488.83" y1="1242.30" x2="1488.83" y2="1235.30" stroke="#000" stroke-width="1.7"/>
<text x="1488.8" y="1273.9" font-size="29.5" text-anchor="middle">1.2</text>
<text x="1356.4" y="907.6" font-size="29" text-anchor="middle">EP system</text>
<text x="1066.0" y="931.5" font-size="41" font-weight="bold">i</text>
<line x1="1167.0" y1="1169.8" x2="1187.0" y2="1169.8" stroke="#1503df" stroke-width="2.0"/>
<text x="1195.6" y="1175.7" font-size="25" fill="#1503df"><tspan font-family="'Liberation Serif','DejaVu Serif',serif" font-style="italic">κ</tspan>=0</text>
<line x1="1167.0" y1="1211.4" x2="1187.0" y2="1211.4" stroke="#e62222" stroke-width="2.0"/>
<text x="1195.6" y="1217.5" font-size="25" fill="#e62222"><tspan font-family="'Liberation Serif','DejaVu Serif',serif" font-style="italic">κ</tspan> =0.003</text>
<text x="1086.0" y="1055.0" font-size="34" text-anchor="middle" transform="rotate(-90 1086.0 1055.0)">S<tspan font-size="20" dy="8.5">11</tspan><tspan dy="-8.5">(dB)</tspan></text>
<text x="1355.5" y="1314.6" font-size="34" text-anchor="middle"><tspan font-style="italic">ω</tspan></text>
<polyline points="304.5,1396.7 327.3,1398.1 348.1,1399.7 367.1,1401.5 384.9,1403.5 401.0,1405.8 416.1,1408.3 430.1,1411.2 442.9,1414.3 454.6,1417.7 465.3,1421.4 475.4,1425.4 484.7,1429.8 492.1,1434.0 497.8,1438.0 501.1,1441.2 505.2,1446.5 506.5,1447.9 507.5,1448.3 510.9,1448.6 513.2,1449.3 516.2,1451.1 520.2,1454.1 525.6,1459.0 531.3,1464.8 537.0,1471.3 542.4,1478.1 547.7,1485.6 552.7,1493.3 557.8,1501.8 562.5,1510.3 567.1,1519.6 571.8,1529.5 576.5,1540.1 581.5,1552.3 590.6,1575.9 609.0,1626.9 613.7,1638.9 617.7,1648.4 622.8,1658.6 625.1,1662.7 627.4,1666.2 629.8,1669.1 632.1,1671.5 634.5,1673.2 636.5,1674.2 638.8,1674.7 641.5,1674.5 644.2,1673.4 646.9,1671.5 649.5,1668.9 652.2,1665.5 655.2,1660.9 658.3,1655.6 663.0,1646.1 668.6,1633.1 687.1,1586.9 694.4,1569.2 700.5,1555.5 706.5,1542.8" fill="none" stroke="#e62222" stroke-width="2.0" stroke-linejoin="round"/>
<polyline points="304.5,1396.7 326.6,1398.1 346.7,1399.6 365.1,1401.3 382.2,1403.2 398.0,1405.3 412.7,1407.7 426.1,1410.3 438.8,1413.2 450.9,1416.5 462.0,1420.1 472.3,1424.0 482.1,1428.3 491.1,1432.9 499.8,1438.1 508.2,1443.8 515.9,1449.8 522.2,1455.4 528.3,1461.4 534.3,1468.0 540.0,1475.0 545.7,1482.7 551.1,1490.6 556.4,1499.4 561.4,1508.4 566.5,1518.2 571.2,1528.0 576.2,1539.3 581.2,1551.4 590.3,1575.0 609.3,1627.8 614.0,1639.7 618.1,1649.1 623.1,1659.2 625.4,1663.2 627.8,1666.6 630.1,1669.5 632.1,1671.5 634.5,1673.2 636.5,1674.2 638.8,1674.7 641.5,1674.5 644.2,1673.4 646.9,1671.5 649.5,1668.9 652.2,1665.5 655.2,1660.9 658.3,1655.6 663.0,1646.1 668.6,1633.1 687.1,1586.9 694.4,1569.2 700.5,1555.5 706.5,1542.8" fill="none" stroke="#1503df" stroke-width="2.0" stroke-linejoin="round"/>
<rect x="304.50" y="1390.20" width="402.00" height="324.50" fill="none" stroke="#000" stroke-width="1.7"/>
<line x1="304.50" y1="1390.20" x2="311.50" y2="1390.20" stroke="#000" stroke-width="1.7"/>
<text x="296.5" y="1398.9" font-size="29.5" text-anchor="end">0.0</text>
<line x1="304.50" y1="1475.59" x2="311.50" y2="1475.59" stroke="#000" stroke-width="1.7"/>
<text x="296.5" y="1484.3" font-size="29.5" text-anchor="end">-0.5</text>
<line x1="304.50" y1="1560.99" x2="311.50" y2="1560.99" stroke="#000" stroke-width="1.7"/>
<text x="296.5" y="1569.7" font-size="29.5" text-anchor="end">-1.0</text>
<line x1="304.50" y1="1646.38" x2="311.50" y2="1646.38" stroke="#000" stroke-width="1.7"/>
<text x="296.5" y="1655.1" font-size="29.5" text-anchor="end">-1.5</text>
<line x1="371.50" y1="1714.70" x2="371.50" y2="1707.70" stroke="#000" stroke-width="1.7"/>
<text x="371.5" y="1746.3" font-size="29.5" text-anchor="middle">0.8</text>
<line x1="505.50" y1="1714.70" x2="505.50" y2="1707.70" stroke="#000" stroke-width="1.7"/>
<text x="505.5" y="1746.3" font-size="29.5" text-anchor="middle">1.0</text>
<line x1="639.50" y1="1714.70" x2="639.50" y2="1707.70" stroke="#000" stroke-width="1.7"/>
<text x="639.5" y="1746.3" font-size="29.5" text-anchor="middle">1.2</text>
<text x="506.9" y="1368.5" font-size="29" text-anchor="middle">standard system</text>
<text x="193.5" y="1406.0" font-size="41" font-weight="bold">j</text>
<line x1="321.3" y1="1630.7" x2="341.3" y2="1630.7" stroke="#1503df" stroke-width="2.0"/>
<text x="350.0" y="1636.6" font-size="25" fill="#1503df"><tspan font-family="'Liberation Serif','DejaVu Serif',serif" font-style="italic">κ</tspan>=0</text>
<line x1="321.3" y1="1671.4" x2="341.3" y2="1671.4" stroke="#e62222" stroke-width="2.0"/>
<text x="350.0" y="1677.5" font-size="25" fill="#e62222"><tspan font-family="'Liberation Serif','DejaVu Serif',serif" font-style="italic">κ</tspan> =0.003</text>
<text x="213.1" y="1527.6" font-size="34" text-anchor="middle" transform="rotate(-90 213.1 1527.6)">S<tspan font-size="20" dy="8.5">11</tspan><tspan dy="-8.5">(dB)</tspan></text>
<text x="507.7" y="1786.7" font-size="34" text-anchor="middle"><tspan font-style="italic">ω</tspan></text>
<polyline points="911.5,1464.8 944.4,1475.5 976.6,1486.7 1007.2,1498.0 1033.7,1508.6 1052.8,1516.9 1060.5,1520.6 1067.2,1524.2 1073.0,1527.5 1077.7,1530.7 1081.7,1533.8 1085.4,1537.2 1088.1,1540.2 1090.7,1543.8 1092.8,1547.2 1094.8,1551.2 1096.5,1555.2 1098.1,1560.2 1099.8,1566.4 1101.2,1572.6 1103.5,1586.6 1105.5,1603.1 1110.9,1662.5 1111.9,1669.7 1112.6,1672.1 1112.9,1672.5 1113.2,1672.4 1113.9,1670.6 1114.9,1664.3 1120.3,1609.6 1122.3,1594.9 1124.6,1582.9 1126.0,1577.9 1127.7,1573.2 1129.3,1569.7 1131.0,1567.1 1133.0,1564.9 1135.1,1563.3 1137.7,1562.1 1140.4,1561.4 1144.1,1561.2 1148.1,1561.7 1153.2,1562.7 1158.9,1564.4 1165.9,1567.0 1174.0,1570.2 1194.1,1579.2 1221.3,1592.4 1251.5,1608.0 1282.7,1625.0 1314.3,1642.8" fill="none" stroke="#e62222" stroke-width="2.0" stroke-linejoin="round"/>
<polyline points="911.5,1464.6 937.7,1473.0 963.5,1481.7 989.4,1490.8 1014.9,1500.2 1040.4,1510.0 1065.9,1520.3 1091.1,1530.8 1116.3,1541.7 1141.4,1553.0 1166.3,1564.6 1191.1,1576.6 1215.9,1589.1 1240.8,1602.0 1265.3,1615.1 1289.8,1628.7 1314.3,1642.6" fill="none" stroke="#1503df" stroke-width="2.0" stroke-linejoin="round"/>
<rect x="911.50" y="1390.20" width="402.80" height="324.50" fill="none" stroke="#000" stroke-width="1.7"/>
<line x1="911.50" y1="1390.20" x2="918.50" y2="1390.20" stroke="#000" stroke-width="1.7"/>
<text x="903.5" y="1398.9" font-size="29.5" text-anchor="end">0.0</text>
<line x1="911.50" y1="1475.59" x2="918.50" y2="1475.59" stroke="#000" stroke-width="1.7"/>
<text x="903.5" y="1484.3" font-size="29.5" text-anchor="end">-0.5</text>
<line x1="911.50" y1="1560.99" x2="918.50" y2="1560.99" stroke="#000" stroke-width="1.7"/>
<text x="903.5" y="1569.7" font-size="29.5" text-anchor="end">-1.0</text>
<line x1="911.50" y1="1646.38" x2="918.50" y2="1646.38" stroke="#000" stroke-width="1.7"/>
<text x="903.5" y="1655.1" font-size="29.5" text-anchor="end">-1.5</text>
<line x1="978.63" y1="1714.70" x2="978.63" y2="1707.70" stroke="#000" stroke-width="1.7"/>
<text x="978.6" y="1746.3" font-size="29.5" text-anchor="middle">0.8</text>
<line x1="1112.90" y1="1714.70" x2="1112.90" y2="1707.70" stroke="#000" stroke-width="1.7"/>
<text x="1112.9" y="1746.3" font-size="29.5" text-anchor="middle">1.0</text>
<line x1="1247.17" y1="1714.70" x2="1247.17" y2="1707.70" stroke="#000" stroke-width="1.7"/>
<text x="1247.2" y="1746.3" font-size="29.5" text-anchor="middle">1.2</text>
<text x="1109.8" y="1368.5" font-size="29" text-anchor="middle">our system</text>
<text x="796.5" y="1406.2" font-size="41" font-weight="bold">k</text>
<line x1="929.5" y1="1630.7" x2="949.5" y2="1630.7" stroke="#1503df" stroke-width="2.0"/>
<text x="957.5" y="1636.6" font-size="25" fill="#1503df"><tspan font-family="'Liberation Serif','DejaVu Serif',serif" font-style="italic">κ</tspan>=0</text>
<line x1="929.5" y1="1671.4" x2="949.5" y2="1671.4" stroke="#e62222" stroke-width="2.0"/>
<text x="957.5" y="1677.5" font-size="25" fill="#e62222"><tspan font-family="'Liberation Serif','DejaVu Serif',serif" font-style="italic">κ</tspan> =0.003</text>
<text x="826.7" y="1527.0" font-size="34" text-anchor="middle" transform="rotate(-90 826.7 1527.0)">S<tspan font-size="20" dy="8.5">11</tspan><tspan dy="-8.5">(dB)</tspan></text>
<text x="1112.8" y="1786.7" font-size="34" text-anchor="middle"><tspan font-style="italic">ω</tspan></text>
<polyline points="101.5,2031.9 504.0,2031.9" fill="none" stroke="#1503df" stroke-width="2.0" stroke-linejoin="round"/>
<polyline points="101.5,2041.2 138.1,2043.2 168.2,2045.7 181.3,2047.1 193.4,2048.6 204.5,2050.4 214.5,2052.3 222.6,2054.1 230.3,2056.1 237.3,2058.3 244.1,2060.7 250.4,2063.4 256.8,2066.4 275.9,2077.0 279.9,2078.5 283.0,2078.9 284.6,2078.6 286.0,2078.1 287.3,2077.3 288.7,2076.1 291.0,2072.8 293.4,2067.9 295.7,2061.2 298.1,2052.7 306.4,2015.2 308.5,2007.2 310.5,2000.5 312.8,1994.3 315.2,1989.9 316.5,1988.1 317.8,1986.8 319.2,1985.8 320.9,1985.2 322.5,1984.9 324.6,1985.0 326.6,1985.5 328.9,1986.5 332.6,1988.3 343.3,1994.5 349.4,1997.7 356.1,2000.8 363.1,2003.7 369.5,2005.9 376.5,2008.0 383.9,2009.9 392.0,2011.7 402.0,2013.6 412.8,2015.3 424.8,2016.8 437.9,2018.2 467.8,2020.6 504.0,2022.6" fill="none" stroke="#e62222" stroke-width="2.0" stroke-linejoin="round"/>
<rect x="101.50" y="1869.80" width="402.50" height="324.20" fill="none" stroke="#000" stroke-width="1.7"/>
<line x1="101.50" y1="1869.80" x2="108.50" y2="1869.80" stroke="#000" stroke-width="1.7"/>
<text x="93.5" y="1878.5" font-size="29.5" text-anchor="end">0.1</text>
<line x1="101.50" y1="2031.90" x2="108.50" y2="2031.90" stroke="#000" stroke-width="1.7"/>
<text x="93.5" y="2040.6" font-size="29.5" text-anchor="end">0.0</text>
<line x1="101.50" y1="2194.00" x2="108.50" y2="2194.00" stroke="#000" stroke-width="1.7"/>
<text x="93.5" y="2202.7" font-size="29.5" text-anchor="end">-0.1</text>
<line x1="101.50" y1="2194.00" x2="101.50" y2="2187.00" stroke="#000" stroke-width="1.7"/>
<text x="101.5" y="2225.6" font-size="29.5" text-anchor="middle">0.9</text>
<line x1="302.75" y1="2194.00" x2="302.75" y2="2187.00" stroke="#000" stroke-width="1.7"/>
<text x="302.7" y="2225.6" font-size="29.5" text-anchor="middle">1.0</text>
<line x1="504.00" y1="2194.00" x2="504.00" y2="2187.00" stroke="#000" stroke-width="1.7"/>
<text x="504.0" y="2225.6" font-size="29.5" text-anchor="middle">1.1</text>
<text x="294.8" y="1853.0" font-size="29" text-anchor="middle">our system</text>
<text x="3.0" y="1877.0" font-size="41" font-weight="bold">l</text>
<line x1="364.5" y1="2124.5" x2="384.5" y2="2124.5" stroke="#1503df" stroke-width="2.0"/>
<text x="392.3" y="2130.4" font-size="25" fill="#1503df"><tspan font-family="'Liberation Serif','DejaVu Serif',serif" font-style="italic">κ</tspan>=0</text>
<line x1="364.5" y1="2165.1" x2="384.5" y2="2165.1" stroke="#e62222" stroke-width="2.0"/>
<text x="392.3" y="2171.2" font-size="25" fill="#e62222"><tspan font-family="'Liberation Serif','DejaVu Serif',serif" font-style="italic">κ</tspan> =0.0001</text>
<text x="31.2" y="2032.0" font-size="34" text-anchor="middle" transform="rotate(-90 31.2 2032.0)">Phase (degree)</text>
<text x="303.5" y="2271.5" font-size="34" text-anchor="middle"><tspan font-style="italic">ω</tspan></text>
<polyline points="621.0,1899.3 817.1,1899.3 820.9,1899.3 821.9,1899.7 822.2,1900.6 822.3,1903.1 822.4,1919.5 822.5,2158.6 822.6,1919.5 822.7,1903.1 822.8,1900.6 823.1,1899.7 824.1,1899.3 827.9,1899.3 1024.0,1899.3" fill="none" stroke="#1503df" stroke-width="2.6" stroke-linejoin="round"/>
<polyline points="621.0,1899.3 808.4,1899.3 816.9,1899.7 818.7,1900.2 819.8,1901.1 820.3,1902.0 820.7,1903.5 821.3,1908.1 821.6,1916.6 821.9,1931.0 822.5,2164.5 823.1,1931.0 823.4,1916.6 823.7,1908.1 824.3,1903.5 824.7,1902.0 825.2,1901.1 826.3,1900.2 828.1,1899.7 836.6,1899.3 1024.0,1899.3" fill="none" stroke="#e62222" stroke-width="2.6" stroke-linejoin="round" stroke-opacity="0.62"/>
<rect x="787.3" y="1883.6" width="70.9" height="294.4" fill="none" stroke="#4cbb5a" stroke-width="2.2" stroke-dasharray="9,6.2"/>
<rect x="621.00" y="1869.80" width="403.00" height="324.20" fill="none" stroke="#000" stroke-width="1.7"/>
<line x1="621.00" y1="1899.27" x2="628.00" y2="1899.27" stroke="#000" stroke-width="1.7"/>
<text x="613.0" y="1908.0" font-size="29.5" text-anchor="end">0</text>
<line x1="621.00" y1="1987.69" x2="628.00" y2="1987.69" stroke="#000" stroke-width="1.7"/>
<text x="613.0" y="1996.4" font-size="29.5" text-anchor="end">-30</text>
<line x1="621.00" y1="2076.11" x2="628.00" y2="2076.11" stroke="#000" stroke-width="1.7"/>
<text x="613.0" y="2084.8" font-size="29.5" text-anchor="end">-60</text>
<line x1="621.00" y1="2164.53" x2="628.00" y2="2164.53" stroke="#000" stroke-width="1.7"/>
<text x="613.0" y="2173.2" font-size="29.5" text-anchor="end">-90</text>
<line x1="621.00" y1="2194.00" x2="621.00" y2="2187.00" stroke="#000" stroke-width="1.7"/>
<text x="621.0" y="2225.6" font-size="29.5" text-anchor="middle">0.90</text>
<line x1="721.75" y1="2194.00" x2="721.75" y2="2187.00" stroke="#000" stroke-width="1.7"/>
<text x="721.7" y="2225.6" font-size="29.5" text-anchor="middle">0.95</text>
<line x1="822.50" y1="2194.00" x2="822.50" y2="2187.00" stroke="#000" stroke-width="1.7"/>
<text x="822.5" y="2225.6" font-size="29.5" text-anchor="middle">1.00</text>
<line x1="923.25" y1="2194.00" x2="923.25" y2="2187.00" stroke="#000" stroke-width="1.7"/>
<text x="923.2" y="2225.6" font-size="29.5" text-anchor="middle">1.05</text>
<line x1="1024.00" y1="2194.00" x2="1024.00" y2="2187.00" stroke="#000" stroke-width="1.7"/>
<text x="1024.0" y="2225.6" font-size="29.5" text-anchor="middle">1.10</text>
<text x="824.0" y="1853.0" font-size="29" text-anchor="middle">EP system</text>
<text x="522.0" y="1877.0" font-size="41" font-weight="bold">m</text>
<line x1="884.3" y1="2124.5" x2="904.3" y2="2124.5" stroke="#1503df" stroke-width="2.0"/>
<text x="911.8" y="2130.4" font-size="25" fill="#1503df"><tspan font-family="'Liberation Serif','DejaVu Serif',serif" font-style="italic">κ</tspan>=0</text>
<line x1="884.3" y1="2165.1" x2="904.3" y2="2165.1" stroke="#e62222" stroke-width="2.0"/>
<text x="911.8" y="2171.2" font-size="25" fill="#e62222"><tspan font-family="'Liberation Serif','DejaVu Serif',serif" font-style="italic">κ</tspan> =0.0001</text>
<text x="551.5" y="2030.0" font-size="34" text-anchor="middle" transform="rotate(-90 551.5 2030.0)">Phase (degree)</text>
<text x="828.9" y="2271.5" font-size="34" text-anchor="middle"><tspan font-style="italic">ω</tspan></text>
<rect x="1056" y="1822.4" width="546.8" height="460.4" fill="none" stroke="#4cbb5a" stroke-width="2" stroke-dasharray="9,6"/>
<polyline points="1145.4,1903.9 1177.0,1905.7 1190.3,1906.8 1202.6,1908.1 1213.9,1909.6 1223.7,1911.2 1232.6,1913.0 1241.0,1915.1 1248.8,1917.5 1255.7,1920.1 1262.1,1923.0 1268.0,1926.3 1273.5,1930.0 1278.4,1934.0 1282.8,1938.3 1287.3,1943.4 1290.7,1948.0 1293.7,1952.5 1296.6,1957.7 1299.1,1962.5 1302.0,1969.1 1304.5,1975.3 1306.9,1982.1 1309.4,1989.8 1311.9,1998.4 1314.3,2007.8 1318.8,2027.2 1323.2,2049.4 1334.5,2110.6 1337.5,2124.8 1340.4,2137.1 1341.9,2142.5 1346.1,2154.7 1354.5,2164.5 1362.9,2154.7 1367.1,2142.5 1368.6,2137.1 1371.5,2124.8 1374.5,2110.6 1385.8,2049.4 1390.2,2027.2 1394.7,2007.8 1397.1,1998.4 1399.6,1989.8 1402.1,1982.1 1404.5,1975.3 1407.0,1969.1 1409.4,1963.6 1411.9,1958.6 1414.9,1953.4 1417.8,1948.7 1420.8,1944.6 1425.2,1939.3 1429.6,1934.9 1434.6,1930.7 1439.5,1927.3 1445.4,1923.8 1451.3,1920.9 1457.7,1918.4 1465.1,1915.9 1473.0,1913.8 1481.8,1911.8 1491.2,1910.2 1501.5,1908.7 1512.8,1907.4 1525.6,1906.2 1555.7,1904.3" fill="none" stroke="#e62222" stroke-width="2.0" stroke-linejoin="round"/>
<polyline points="1127.8,1899.3 1259.6,1899.5 1288.7,1899.8 1306.8,1900.4 1319.5,1901.3 1324.3,1902.0 1328.3,1902.9 1331.5,1904.0 1334.1,1905.2 1336.2,1906.7 1338.4,1908.8 1340.3,1911.5 1341.9,1914.8 1343.3,1918.9 1344.6,1924.1 1345.6,1929.9 1346.4,1936.7 1348.0,1954.9 1349.1,1977.5 1350.0,2006.6 1353.1,2142.5 1353.9,2160.0 1354.2,2163.8 1354.5,2164.5 1354.8,2163.7 1355.1,2160.0 1355.9,2142.5 1358.9,2008.4 1359.9,1977.5 1361.0,1954.9 1362.6,1936.7 1363.4,1929.9 1364.4,1924.1 1365.6,1919.3 1367.0,1915.1 1368.6,1911.8 1370.4,1909.1 1372.2,1907.2 1374.4,1905.5 1376.9,1904.2 1380.2,1903.0 1383.8,1902.2 1388.5,1901.4 1400.5,1900.4 1417.6,1899.9 1444.5,1899.6 1563.6,1899.3" fill="none" stroke="#1503df" stroke-width="3.0" stroke-linejoin="round"/>
<rect x="1153.00" y="1869.80" width="403.00" height="324.20" fill="none" stroke="#000" stroke-width="1.7"/>
<line x1="1153.00" y1="1899.27" x2="1160.00" y2="1899.27" stroke="#000" stroke-width="1.7"/>
<text x="1145.0" y="1908.0" font-size="29.5" text-anchor="end">0</text>
<line x1="1153.00" y1="1987.69" x2="1160.00" y2="1987.69" stroke="#000" stroke-width="1.7"/>
<text x="1145.0" y="1996.4" font-size="29.5" text-anchor="end">-30</text>
<line x1="1153.00" y1="2076.11" x2="1160.00" y2="2076.11" stroke="#000" stroke-width="1.7"/>
<text x="1145.0" y="2084.8" font-size="29.5" text-anchor="end">-60</text>
<line x1="1153.00" y1="2164.53" x2="1160.00" y2="2164.53" stroke="#000" stroke-width="1.7"/>
<text x="1145.0" y="2173.2" font-size="29.5" text-anchor="end">-90</text>
<line x1="1153.00" y1="2194.00" x2="1153.00" y2="2187.00" stroke="#000" stroke-width="1.7"/>
<text x="1153.0" y="2225.6" font-size="29.5" text-anchor="middle">0.9992</text>
<line x1="1253.75" y1="2194.00" x2="1253.75" y2="2187.00" stroke="#000" stroke-width="1.7"/>
<text x="1253.8" y="2225.6" font-size="29.5" text-anchor="middle">0.9996</text>
<line x1="1354.50" y1="2194.00" x2="1354.50" y2="2187.00" stroke="#000" stroke-width="1.7"/>
<text x="1354.5" y="2225.6" font-size="29.5" text-anchor="middle">1.0000</text>
<line x1="1455.25" y1="2194.00" x2="1455.25" y2="2187.00" stroke="#000" stroke-width="1.7"/>
<text x="1455.3" y="2225.6" font-size="29.5" text-anchor="middle">1.0004</text>
<line x1="1556.00" y1="2194.00" x2="1556.00" y2="2187.00" stroke="#000" stroke-width="1.7"/>
<text x="1556.0" y="2225.6" font-size="29.5" text-anchor="middle">1.0008</text>
<text x="1345.7" y="1852.3" font-size="29" text-anchor="middle">EP system</text>
<text x="1065.0" y="1877.0" font-size="41" font-weight="bold">n</text>
<line x1="1411.5" y1="2121.5" x2="1431.5" y2="2121.5" stroke="#1503df" stroke-width="2.0"/>
<text x="1439.8" y="2127.4" font-size="25" fill="#1503df"><tspan font-family="'Liberation Serif','DejaVu Serif',serif" font-style="italic">κ</tspan>=0</text>
<line x1="1411.5" y1="2163.1" x2="1431.5" y2="2163.1" stroke="#e62222" stroke-width="2.0"/>
<text x="1439.8" y="2169.2" font-size="25" fill="#e62222"><tspan font-family="'Liberation Serif','DejaVu Serif',serif" font-style="italic">κ</tspan> =0.0001</text>
<text x="1087.9" y="2025.8" font-size="33.3" text-anchor="middle" transform="rotate(-90 1087.9 2025.8)">Phase (degree)</text>
<text x="1360.6" y="2271.5" font-size="34" text-anchor="middle"><tspan font-style="italic">ω</tspan></text>
<rect x="124" y="45.3" width="67.4" height="322.2" fill="#dcdcdc"/>
<line x1="414.5" y1="159.0" x2="414.5" y2="368.0" stroke="#000" stroke-width="1.2" stroke-linecap="butt" stroke-dasharray="3,2"/>
<line x1="414.7" y1="368.2" x2="133.8" y2="83.1" stroke="#e62222" stroke-width="2.2" stroke-linecap="butt"/>
<polygon points="128.9,78.1 137.0,81.3 131.9,86.4" fill="#e62222"/>
<line x1="414.7" y1="368.2" x2="199.4" y2="85.4" stroke="#e0883a" stroke-width="1.8" stroke-linecap="butt"/>
<polygon points="195.8,80.7 202.4,84.4 197.6,88.0" fill="#e0883a"/>
<line x1="414.7" y1="368.2" x2="262.9" y2="82.8" stroke="#1503df" stroke-width="2.2" stroke-linecap="butt"/>
<polygon points="259.6,76.6 266.6,82.0 260.2,85.3" fill="#1503df"/>
<path d="M115.0,64.2L133.6,82.8M115.0,82.8L133.6,64.2" stroke="#e62222" stroke-width="3.5" fill="none"/>
<circle cx="190.3" cy="73.5" r="6.5" stroke="#e0883a" stroke-width="3.0" fill="none"/>
<path d="M248.7,64.2L267.3,82.8M248.7,82.8L267.3,64.2" stroke="#1503df" stroke-width="3.5" fill="none"/>
<path d="M252.8,203.8 L253.3,203.1 L253.8,202.4 L254.3,201.7 L254.8,201.0 L255.3,200.2 L255.8,199.5 L256.4,198.8 L256.9,198.1 L257.5,197.4 L258.1,196.7 L258.7,196.0 L259.3,195.3 L260.0,194.6 L260.6,193.9 L261.3,193.2 L261.9,192.5 L262.6,191.8 L263.3,191.1 L264.1,190.4 L264.8,189.8 L265.5,189.1 L266.3,188.4" fill="none" stroke="#8b1a1a" stroke-width="2.0"/>
<polygon points="272.8,182.9 268.3,191.8 263.1,185.1" fill="#8b1a1a"/>
<path d="M414.7,305.2 L414.0,305.2 L413.2,305.2 L412.5,305.2 L411.7,305.3 L411.0,305.3 L410.2,305.4 L409.5,305.4 L408.7,305.5 L408.0,305.6 L407.2,305.6 L406.5,305.7 L405.8,305.8 L405.0,305.9 L404.3,306.1 L403.5,306.2 L402.8,306.3 L402.1,306.5 L401.3,306.6 L400.6,306.8 L399.9,307.0 L399.2,307.1 L398.4,307.3 L397.7,307.5 L397.0,307.7 L396.3,308.0 L395.6,308.2 L394.9,308.4 L394.1,308.6 L393.4,308.9 L392.7,309.2 L392.0,309.4 L391.3,309.7 L390.7,310.0 L390.0,310.3 L389.3,310.6 L388.6,310.9 L387.9,311.2 L387.2,311.5" fill="none" stroke="#1503df" stroke-width="2.2"/>
<polygon points="385.9,312.2 392.6,305.0 395.8,312.3" fill="#1503df"/>
<line x1="130.0" y1="313.2" x2="185.4" y2="313.2" stroke="#000" stroke-width="1.3" stroke-linecap="butt"/>
<polygon points="191.4,313.2 184.4,310.2 184.4,316.2" fill="#000"/>
<polygon points="124.0,313.2 131.0,310.2 131.0,316.2" fill="#000"/>
<line x1="339.0" y1="368.2" x2="383.0" y2="368.2" stroke="#000" stroke-width="4.2" stroke-linecap="butt"/>
<polygon points="399.0,368.2 382.0,360.4 382.0,376.0" fill="#000"/>
<circle cx="414.7" cy="368.2" r="7.8" fill="#000"/>
<rect x="101.50" y="43.80" width="402.50" height="324.40" fill="none" stroke="#000" stroke-width="1.7"/>
<line x1="101.50" y1="368.20" x2="108.50" y2="368.20" stroke="#000" stroke-width="1.7"/>
<text x="93.5" y="376.9" font-size="29.5" text-anchor="end">0.00</text>
<line x1="101.50" y1="73.29" x2="108.50" y2="73.29" stroke="#000" stroke-width="1.7"/>
<text x="93.5" y="82.0" font-size="29.5" text-anchor="end">0.01</text>
<line x1="191.07" y1="368.20" x2="191.07" y2="361.20" stroke="#000" stroke-width="1.7"/>
<text x="191.1" y="399.8" font-size="29.5" text-anchor="middle">1.00</text>
<line x1="414.43" y1="368.20" x2="414.43" y2="361.20" stroke="#000" stroke-width="1.7"/>
<text x="414.4" y="399.8" font-size="29.5" text-anchor="middle">1.01</text>
<text x="216.5" y="221.0" font-size="29" fill="#e62222"><tspan font-style="italic" font-size="22">∠</tspan><tspan font-style="italic" font-size="26">α</tspan></text>
<text x="369.0" y="270.0" font-size="29" fill="#1503df">-<tspan font-style="italic" font-size="22">∠</tspan><tspan font-style="italic" font-size="27.5">β</tspan></text>
<text x="139.5" y="303.0" font-size="26">Δ<tspan font-style="italic">ω</tspan></text>
<text x="423.0" y="357.8" font-size="26"><tspan font-style="italic">ω</tspan></text>
<text x="103.0" y="107.0" font-size="26" fill="#e62222"><tspan font-style="italic">ω</tspan><tspan font-size="17" dy="6.3" dx="0.5">+,1</tspan></text>
<text x="205.0" y="65.0" font-size="26" fill="#e0883a"><tspan font-style="italic">ω</tspan><tspan font-size="17" dy="6.3" dx="0.5">-</tspan></text>
<text x="290.5" y="83.0" font-size="26" fill="#1503df"><tspan font-style="italic">ω</tspan><tspan font-size="17" dy="6.3" dx="0.5">+,2</tspan></text>
<text x="302.6" y="23.7" font-size="29" text-anchor="middle">DP system</text>
<text x="5.5" y="58.5" font-size="41" font-weight="bold">a</text>
<text x="43.8" y="204.0" font-size="34" text-anchor="middle" transform="rotate(-90 43.8 204.0)">Im(<tspan font-style="italic">ω</tspan>)</text>
<text x="285.8" y="428.0" font-size="34" text-anchor="middle">Re(<tspan font-style="italic">ω</tspan>)</text>
<line x1="692.2" y1="44.5" x2="692.2" y2="367.5" stroke="#cccccc" stroke-width="1.0" stroke-linecap="butt"/>
<line x1="621.0" y1="205.8" x2="1024.0" y2="205.8" stroke="#000" stroke-width="1.7" stroke-linecap="butt"/>
<line x1="929.4" y1="206.0" x2="929.4" y2="310.7" stroke="#000" stroke-width="1.2" stroke-linecap="butt" stroke-dasharray="3,2"/>
<line x1="929.4" y1="204.3" x2="705.4" y2="67.3" stroke="#e3a05e" stroke-width="1.6" stroke-linecap="butt"/>
<polygon points="700.3,64.2 707.8,65.3 704.7,70.4" fill="#e3a05e"/>
<circle cx="692.2" cy="58.7" r="6.4" stroke="#e0883a" stroke-width="2.9" fill="none"/>
<line x1="929.4" y1="205.8" x2="704.7" y2="72.9" stroke="#e62222" stroke-width="2.4" stroke-linecap="butt"/>
<polygon points="698.7,69.3 707.4,70.3 703.7,76.5" fill="#e62222"/>
<path d="M683.2,56.5L701.2,74.5M683.2,74.5L701.2,56.5" stroke="#e62222" stroke-width="3.5" fill="none"/>
<polygon points="763.3,99.2 762.4,108.9 755.7,105.4" fill="#8b1a1a"/>
<line x1="929.4" y1="205.8" x2="703.2" y2="342.1" stroke="#1503df" stroke-width="2.2" stroke-linecap="butt"/>
<polygon points="697.2,345.7 702.2,338.5 705.9,344.6" fill="#1503df"/>
<path d="M683.5,339.5L701.5,357.5M683.5,357.5L701.5,339.5" stroke="#1503df" stroke-width="3.5" fill="none"/>
<path d="M866.0,247.7 L867.1,249.3 L868.2,250.8 L869.3,252.3 L870.5,253.8 L871.7,255.2 L872.9,256.6 L874.2,258.0 L875.5,259.4 L876.8,260.7 L878.2,261.9 L879.6,263.2 L881.0,264.4 L882.5,265.6 L884.0,266.7 L885.5,267.8 L887.0,268.9 L888.6,269.9 L890.2,270.9 L891.8,271.8 L893.4,272.7 L895.1,273.6 L896.8,274.4 L898.5,275.2 L900.2,276.0 L901.9,276.7 L903.7,277.3 L905.5,277.9 L907.2,278.5 L909.0,279.0 L910.9,279.5 L912.7,279.9 L914.5,280.3 L916.3,280.7 L918.2,281.0 L920.1,281.2 L921.9,281.4 L923.8,281.6 L925.7,281.7" fill="none" stroke="#1503df" stroke-width="2.2"/>
<polygon points="929.4,281.8 920.2,285.3 920.7,277.3" fill="#1503df"/>
<line x1="860.0" y1="205.8" x2="905.5" y2="205.8" stroke="#000" stroke-width="4.2" stroke-linecap="butt"/>
<polygon points="921.5,205.8 904.5,198.0 904.5,213.6" fill="#000"/>
<circle cx="929.4" cy="205.8" r="7.8" fill="#000"/>
<rect x="621.00" y="43.80" width="403.00" height="324.40" fill="none" stroke="#000" stroke-width="1.7"/>
<line x1="621.00" y1="58.55" x2="628.00" y2="58.55" stroke="#000" stroke-width="1.7"/>
<text x="613.0" y="67.2" font-size="29.5" text-anchor="end">0.01</text>
<line x1="621.00" y1="206.00" x2="628.00" y2="206.00" stroke="#000" stroke-width="1.7"/>
<text x="613.0" y="214.7" font-size="29.5" text-anchor="end">0.00</text>
<line x1="621.00" y1="353.45" x2="628.00" y2="353.45" stroke="#000" stroke-width="1.7"/>
<text x="613.0" y="362.2" font-size="29.5" text-anchor="end">-0.01</text>
<line x1="692.31" y1="368.20" x2="692.31" y2="361.20" stroke="#000" stroke-width="1.7"/>
<text x="692.3" y="399.8" font-size="29.5" text-anchor="middle">1.00</text>
<line x1="929.23" y1="368.20" x2="929.23" y2="361.20" stroke="#000" stroke-width="1.7"/>
<text x="929.2" y="399.8" font-size="29.5" text-anchor="middle">1.01</text>
<text x="771.0" y="89.8" font-size="29" fill="#e62222"><tspan font-style="italic" font-size="22">∠</tspan><tspan font-style="italic" font-size="26">α</tspan></text>
<text x="856.5" y="300.5" font-size="29" fill="#1503df"><tspan font-style="italic" font-size="22">∠</tspan><tspan font-style="italic" font-size="27.5">β</tspan></text>
<text x="626.5" y="255.7" font-size="25.5">Δ<tspan font-style="italic">ω</tspan>=0</text>
<text x="937.0" y="197.3" font-size="26"><tspan font-style="italic">ω</tspan></text>
<text x="639.5" y="78.6" font-size="26" fill="#e62222"><tspan font-style="italic">ω</tspan><tspan font-size="17" dy="6.3" dx="0.5">+,1</tspan></text>
<text x="713.5" y="65.5" font-size="26" fill="#e0883a"><tspan font-style="italic">ω</tspan><tspan font-size="17" dy="6.3" dx="0.5">-</tspan></text>
<text x="719.5" y="356.0" font-size="26" fill="#1503df"><tspan font-style="italic">ω</tspan><tspan font-size="17" dy="6.3" dx="0.5">+,2</tspan></text>
<text x="824.7" y="23.7" font-size="29" text-anchor="middle">PT system</text>
<text x="522.0" y="58.5" font-size="41" font-weight="bold">b</text>
<text x="545.5" y="204.0" font-size="34" text-anchor="middle" transform="rotate(-90 545.5 204.0)">Im(<tspan font-style="italic">ω</tspan>)</text>
<text x="808.0" y="428.0" font-size="34" text-anchor="middle">Re(<tspan font-style="italic">ω</tspan>)</text>
<rect x="1253.6" y="45.3" width="167.7" height="322.2" fill="#dcdcdc"/>
<line x1="1153.0" y1="206.0" x2="1555.5" y2="206.0" stroke="#000" stroke-width="3.2" stroke-linecap="butt"/>
<line x1="1413.0" y1="206.0" x2="1458.0" y2="206.0" stroke="#000" stroke-width="5.0" stroke-linecap="butt"/>
<polygon points="1472.0,206.0 1457.0,198.2 1457.0,213.8" fill="#000"/>
<line x1="1488.4" y1="206.0" x2="1268.1" y2="189.7" stroke="#e62222" stroke-width="2.4" stroke-linecap="butt"/>
<polygon points="1261.1,189.2 1269.3,186.2 1268.8,193.4" fill="#e62222"/>
<line x1="1488.4" y1="206.0" x2="1433.8" y2="162.4" stroke="#e0883a" stroke-width="2.0" stroke-linecap="butt"/>
<polygon points="1428.3,158.0 1436.7,160.4 1432.5,165.7" fill="#e0883a"/>
<line x1="1488.4" y1="206.0" x2="1504.4" y2="76.9" stroke="#1503df" stroke-width="2.2" stroke-linecap="butt"/>
<polygon points="1505.3,70.0 1507.9,78.4 1500.7,77.5" fill="#1503df"/>
<line x1="1488.4" y1="206.0" x2="1504.0" y2="299.0" stroke="#4cbb5a" stroke-width="2.0" stroke-linecap="butt"/>
<polygon points="1505.1,305.9 1500.3,298.6 1507.4,297.4" fill="#4cbb5a"/>
<path d="M1244.8,179.4L1263.4,198.0M1244.8,198.0L1263.4,179.4" stroke="#e62222" stroke-width="3.5" fill="none"/>
<circle cx="1420.9" cy="152.1" r="6.3" stroke="#e0883a" stroke-width="2.9" fill="none"/>
<path d="M1496.5,56.7L1515.1,75.3M1496.5,75.3L1515.1,56.7" stroke="#1503df" stroke-width="3.5" fill="none"/>
<path d="M1496.5,300.5L1515.1,319.1M1496.5,319.1L1515.1,300.5" stroke="#3aa83a" stroke-width="3.5" fill="none"/>
<path d="M1435.9,199.1 L1436.0,198.4 L1436.1,197.6 L1436.2,196.9 L1436.3,196.2 L1436.5,195.5 L1436.6,194.8 L1436.8,194.1 L1436.9,193.4 L1437.1,192.7 L1437.3,191.9 L1437.5,191.2 L1437.7,190.5 L1437.9,189.9 L1438.2,189.2 L1438.4,188.5 L1438.6,187.8 L1438.9,187.1 L1439.2,186.4 L1439.4,185.7 L1439.7,185.1 L1440.0,184.4 L1440.3,183.7 L1440.6,183.1 L1440.9,182.4 L1441.3,181.8 L1441.6,181.1 L1442.0,180.5 L1442.3,179.9 L1442.7,179.2 L1443.0,178.6 L1443.4,178.0 L1443.8,177.4 L1444.2,176.8 L1444.6,176.2 L1445.0,175.6 L1445.5,175.0 L1445.9,174.4 L1446.3,173.8" fill="none" stroke="#8b1a1a" stroke-width="2.2"/>
<polygon points="1447.2,172.6 1445.5,182.3 1438.9,177.9" fill="#8b1a1a"/>
<path d="M1541.6,206.0 L1541.5,204.1 L1541.2,202.2 L1540.9,200.3 L1540.6,198.5 L1540.2,196.6 L1539.7,194.8 L1539.1,193.0 L1538.5,191.3 L1537.8,189.5 L1537.1,187.8 L1536.3,186.1 L1535.5,184.5 L1534.5,182.9 L1533.6,181.3 L1532.6,179.7 L1531.5,178.2 L1530.4,176.8 L1529.2,175.4 L1528.0,174.0 L1526.7,172.7 L1525.4,171.4 L1524.1,170.2 L1522.7,169.1 L1521.3,168.0 L1519.8,166.9 L1518.3,165.9 L1516.8,165.0 L1515.2,164.1 L1513.7,163.2 L1512.0,162.5 L1510.4,161.8 L1508.8,161.1 L1507.1,160.5 L1505.4,160.0 L1503.7,159.5 L1502.0,159.1 L1500.3,158.8 L1498.6,158.5" fill="none" stroke="#1503df" stroke-width="1.8"/>
<polygon points="1495.1,158.2 1504.5,155.5 1503.6,163.0" fill="#1503df"/>
<path d="M1497.3,256.2 L1498.9,255.9 L1500.6,255.5 L1502.2,255.1 L1503.8,254.6 L1505.4,254.1 L1507.0,253.5 L1508.6,252.8 L1510.1,252.1 L1511.6,251.4 L1513.1,250.6 L1514.6,249.8 L1516.0,248.9 L1517.4,247.9 L1518.8,246.9 L1520.2,245.9 L1521.5,244.8 L1522.7,243.7 L1524.0,242.6 L1525.2,241.4 L1526.3,240.1 L1527.4,238.9 L1528.5,237.5 L1529.5,236.2 L1530.5,234.8 L1531.4,233.4 L1532.3,232.0 L1533.2,230.5 L1533.9,229.0 L1534.7,227.5 L1535.4,225.9 L1536.0,224.4 L1536.6,222.8 L1537.1,221.2 L1537.6,219.5 L1538.0,217.9 L1538.4,216.3 L1538.7,214.6 L1538.9,212.9" fill="none" stroke="#1503df" stroke-width="1.8"/>
<polygon points="1539.3,209.6 1541.6,219.0 1534.1,217.8" fill="#1503df"/>
<line x1="1259.6" y1="347.6" x2="1415.3" y2="347.6" stroke="#000" stroke-width="1.3" stroke-linecap="butt"/>
<polygon points="1421.3,347.6 1414.3,344.6 1414.3,350.6" fill="#000"/>
<polygon points="1253.6,347.6 1260.6,344.6 1260.6,350.6" fill="#000"/>
<circle cx="1488.4" cy="206.0" r="7.4" fill="#000"/>
<rect x="1153.00" y="43.80" width="402.50" height="324.40" fill="none" stroke="#000" stroke-width="1.7"/>
<line x1="1153.00" y1="43.80" x2="1160.00" y2="43.80" stroke="#000" stroke-width="1.7"/>
<text x="1145.0" y="52.5" font-size="29.5" text-anchor="end">0.03</text>
<line x1="1153.00" y1="97.87" x2="1160.00" y2="97.87" stroke="#000" stroke-width="1.7"/>
<text x="1145.0" y="106.6" font-size="29.5" text-anchor="end">0.02</text>
<line x1="1153.00" y1="151.93" x2="1160.00" y2="151.93" stroke="#000" stroke-width="1.7"/>
<text x="1145.0" y="160.6" font-size="29.5" text-anchor="end">0.01</text>
<line x1="1153.00" y1="206.00" x2="1160.00" y2="206.00" stroke="#000" stroke-width="1.7"/>
<text x="1145.0" y="214.7" font-size="29.5" text-anchor="end">0.00</text>
<line x1="1153.00" y1="260.07" x2="1160.00" y2="260.07" stroke="#000" stroke-width="1.7"/>
<text x="1145.0" y="268.8" font-size="29.5" text-anchor="end">-0.01</text>
<line x1="1153.00" y1="314.13" x2="1160.00" y2="314.13" stroke="#000" stroke-width="1.7"/>
<text x="1145.0" y="322.8" font-size="29.5" text-anchor="end">-0.02</text>
<line x1="1153.00" y1="368.20" x2="1160.00" y2="368.20" stroke="#000" stroke-width="1.7"/>
<text x="1145.0" y="376.9" font-size="29.5" text-anchor="end">-0.03</text>
<line x1="1153.00" y1="368.20" x2="1153.00" y2="361.20" stroke="#000" stroke-width="1.7"/>
<text x="1153.0" y="399.8" font-size="29.5" text-anchor="middle">0.96</text>
<line x1="1287.17" y1="368.20" x2="1287.17" y2="361.20" stroke="#000" stroke-width="1.7"/>
<text x="1287.2" y="399.8" font-size="29.5" text-anchor="middle">0.98</text>
<line x1="1421.33" y1="368.20" x2="1421.33" y2="361.20" stroke="#000" stroke-width="1.7"/>
<text x="1421.3" y="399.8" font-size="29.5" text-anchor="middle">1.00</text>
<line x1="1555.50" y1="368.20" x2="1555.50" y2="361.20" stroke="#000" stroke-width="1.7"/>
<text x="1555.5" y="399.8" font-size="29.5" text-anchor="middle">1.02</text>
<text x="1397.0" y="188.3" font-size="29" fill="#e62222"><tspan font-style="italic" font-size="22">∠</tspan><tspan font-style="italic" font-size="26">α</tspan></text>
<text x="1504.0" y="196.2" font-size="26"><tspan font-style="italic">ω</tspan></text>
<text x="1511.0" y="156.4" font-size="27" fill="#1503df"><tspan font-style="italic" font-size="22">∠</tspan><tspan font-style="italic" font-size="27.5" font-family="'Liberation Serif','DejaVu Serif',serif">β</tspan><tspan font-size="18" dy="7" font-family="'Liberation Serif','DejaVu Serif',serif">2</tspan></text>
<text x="1507.5" y="264.3" font-size="27" fill="#1503df"><tspan font-style="italic" font-size="22">∠</tspan><tspan font-style="italic" font-size="27.5" font-family="'Liberation Serif','DejaVu Serif',serif">β</tspan><tspan font-size="18" dy="7" font-family="'Liberation Serif','DejaVu Serif',serif">1</tspan></text>
<text x="1485.3" y="264.3" font-size="27" text-anchor="end" fill="#1503df"><tspan font-style="italic" font-size="22">∠</tspan><tspan font-style="italic" font-size="27.5" font-family="'Liberation Serif','DejaVu Serif',serif">β</tspan><tspan font-size="27" font-family="'Liberation Serif','DejaVu Serif',serif">=</tspan><tspan font-style="italic" font-size="22">∠</tspan><tspan font-style="italic" font-size="27.5" font-family="'Liberation Serif','DejaVu Serif',serif">β</tspan><tspan font-size="18" dy="7" font-family="'Liberation Serif','DejaVu Serif',serif">2</tspan><tspan font-size="27" dy="-7">-</tspan><tspan font-style="italic" font-size="22">∠</tspan><tspan font-style="italic" font-size="27.5" font-family="'Liberation Serif','DejaVu Serif',serif">β</tspan><tspan font-size="18" dy="7" font-family="'Liberation Serif','DejaVu Serif',serif">1</tspan></text>
<text x="1319.5" y="333.5" font-size="26">Δ<tspan font-style="italic">ω</tspan></text>
<text x="1194.0" y="187.0" font-size="26" fill="#e62222"><tspan font-style="italic">ω</tspan><tspan font-size="17" dy="6.3" dx="0.5">+,1</tspan></text>
<text x="1409.5" y="130.0" font-size="26" fill="#e0883a"><tspan font-style="italic">ω</tspan><tspan font-size="17" dy="6.3" dx="0.5">-</tspan></text>
<text x="1441.0" y="68.8" font-size="26" fill="#1503df"><tspan font-style="italic">ω</tspan><tspan font-size="17" dy="6.3" dx="0.5">+,2</tspan></text>
<text x="1503.0" y="342.0" font-size="26" fill="#3cb44b"><tspan font-style="italic">ω</tspan><tspan font-size="17" dy="6.3" dx="0.5">+,3</tspan></text>
<text x="1356.4" y="23.7" font-size="29" text-anchor="middle">EP system</text>
<text x="1056.0" y="58.5" font-size="41" font-weight="bold">c</text>
<text x="1077.0" y="204.0" font-size="34" text-anchor="middle" transform="rotate(-90 1077.0 204.0)">Im(<tspan font-style="italic">ω</tspan>)</text>
<text x="1359.0" y="428.0" font-size="34" text-anchor="middle">Re(<tspan font-style="italic">ω</tspan>)</text>
</svg></body></html>
